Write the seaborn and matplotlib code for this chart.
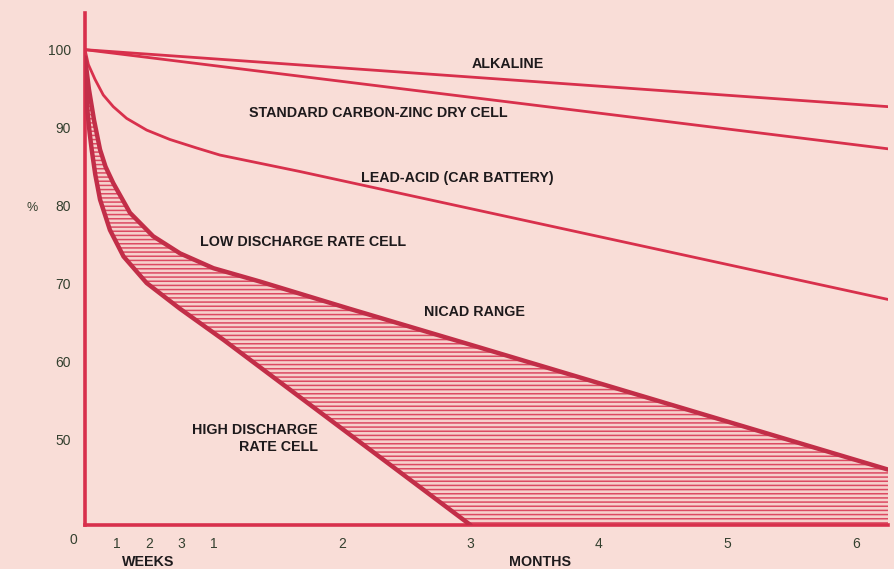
import numpy as np
import pandas as pd
import matplotlib
matplotlib.use("Agg")
import matplotlib.pyplot as plt
import seaborn as sns

# ---- data (x in months, y in % of capacity) ----
alk_x = [0.0, 6.25]
alk_y = [100.0, 92.7]

std_x = [0.0, 6.25]
std_y = [100.0, 87.3]

lead_x = [0.0, 0.026, 0.078, 0.142, 0.22, 0.324, 0.48, 0.66, 0.87, 1.05, 1.67, 6.25]
lead_y = [100.0, 98.1, 96.2, 94.2, 92.7, 91.2, 89.7, 88.5, 87.4, 86.5, 84.4, 68.0]

low_x = [0.0, 0.03, 0.07, 0.117, 0.16, 0.22, 0.35, 0.53, 0.74, 1.0, 1.36, 2.06, 3.0, 6.25]
low_y = [99.0, 95.0, 91.0, 87.2, 85.0, 82.9, 79.1, 76.1, 73.9, 72.0, 70.3, 66.8, 62.2, 46.2]

high_x = [0.0, 0.02, 0.035, 0.052, 0.08, 0.117, 0.194, 0.30, 0.48, 0.74, 1.08, 3.0]
high_y = [97.0, 92.0, 89.5, 87.2, 84.0, 80.8, 76.9, 73.5, 70.1, 66.8, 62.8, 39.1]

x_ticks = [0.25, 0.5, 0.75, 1, 2, 3, 4, 5, 6]
x_tick_labels = ["1", "2", "3", "1", "2", "3", "4", "5", "6"]
y_ticks = [50, 60, 70, 80, 90, 100]
y_tick_labels = ["50", "60", "70", "80", "90", "100"]

labels = {
    "ALKALINE": (3.29, 98.2),
    "STANDARD CARBON-ZINC DRY CELL": (2.28, 91.9),
    "LEAD-ACID (CAR BATTERY)": (2.90, 83.6),
    "LOW DISCHARGE RATE CELL": (1.70, 75.4),
    "NICAD RANGE": (3.03, 66.4),
}

XMAX, YMIN, YMAX = 6.25, 39.1, 104.7

sns.set_theme(style="white")
plt.rcParams["font.family"] = ["Liberation Sans", "DejaVu Sans"]
plt.rcParams["hatch.linewidth"] = 1.1

BG = "#F9DDD7"
RED = "#D8304C"
DARK = "#C22E48"
TXT = "#1e1a1c"
TICKTXT = "#34402f"
FS = 10.3

fig = plt.figure(figsize=(8.95, 5.69), dpi=100, facecolor=BG)
ax = fig.add_axes([85 / 895, 1 - 525 / 569, (888 - 85) / 895, (525 - 13) / 569])
ax.set_facecolor(BG)

# NiCad hatched range
poly_x = list(low_x) + [XMAX, high_x[-1]] + list(high_x[::-1])
poly_y = list(low_y) + [YMIN, YMIN] + list(high_y[::-1])
ax.fill(poly_x, poly_y, facecolor="#F6D0CC", edgecolor="#DC4A62",
        hatch="----", linewidth=0, zorder=1)

def line(xs, ys, color, lw):
    df = pd.DataFrame({"x": xs, "y": ys})
    sns.lineplot(data=df, x="x", y="y", ax=ax, color=color, linewidth=lw,
                 sort=False, estimator=None, zorder=3)

line(alk_x, alk_y, RED, 2.0)
line(std_x, std_y, RED, 2.0)
line(lead_x, lead_y, RED, 2.0)
line(low_x, low_y, DARK, 3.2)
line(high_x, high_y, DARK, 3.2)
for l in ax.lines:
    l.set_solid_joinstyle("round")
    l.set_solid_capstyle("round")

for txt, (x, y) in labels.items():
    ax.text(x, y, txt, ha="center", va="center", fontsize=FS,
            fontweight="bold", color=TXT)
ax.text(1.81, 51.3, "HIGH DISCHARGE", ha="right", va="center", fontsize=FS,
        fontweight="bold", color=TXT)
ax.text(1.81, 49.1, "RATE CELL", ha="right", va="center", fontsize=FS,
        fontweight="bold", color=TXT)

ax.set_xlim(0, XMAX)
ax.set_ylim(YMIN, YMAX)
ax.set_xlabel("")
ax.set_ylabel("")
ax.set_xticks(x_ticks)
ax.set_xticklabels(x_tick_labels)
ax.set_yticks(y_ticks)
ax.set_yticklabels(y_tick_labels)
ax.tick_params(axis="both", direction="out", length=5, width=2, color=RED,
               labelcolor=TICKTXT, labelsize=10)
ax.tick_params(axis="x", pad=4)
ax.tick_params(axis="y", pad=5)

for s in ["top", "right"]:
    ax.spines[s].set_visible(False)
for s in ["left", "bottom"]:
    ax.spines[s].set_color(RED)
    ax.spines[s].set_linewidth(2.6)
ax.grid(False)

fig.text(73 / 895, 1 - 540 / 569, "0", ha="center", va="center",
         fontsize=10, color=TICKTXT)
fig.text(32 / 895, 1 - 208 / 569, "%", ha="center", va="center",
         fontsize=9, color=TICKTXT)
fig.text(148 / 895, 1 - 562 / 569, "WEEKS", ha="center", va="center",
         fontsize=FS, fontweight="bold", color=TXT)
fig.text(540 / 895, 1 - 562 / 569, "MONTHS", ha="center", va="center",
         fontsize=FS, fontweight="bold", color=TXT)

fig.savefig("out.png", dpi=100, facecolor=BG)
